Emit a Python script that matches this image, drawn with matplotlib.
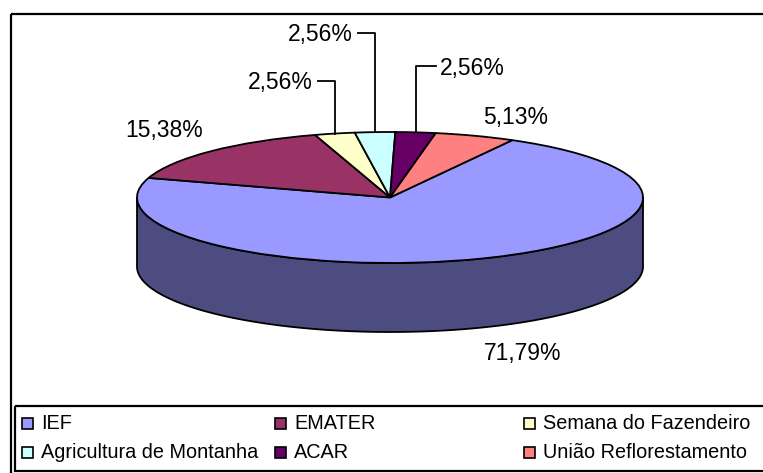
import numpy as np
import matplotlib
matplotlib.use("Agg")
import matplotlib.pyplot as plt
from matplotlib.patches import Wedge, Rectangle, Polygon
from matplotlib.transforms import Affine2D

# data
categories = ['IEF', 'EMATER', 'Semana do Fazendeiro', 'Agricultura de Montanha', 'ACAR', 'União Reflorestamento']
percent = [71.79, 15.38, 2.56, 2.56, 2.56, 5.13]
pct_labels = ['71,79%', '15,38%', '2,56%', '2,56%', '2,56%', '5,13%']
colors = ['#9999FF', '#993366', '#FFFFCC', '#CCFFFF', '#660066', '#FF8080']
side_color = '#4C4C80'

plt.rcParams['font.family'] = ['Liberation Sans', 'DejaVu Sans']

# pie geometry in pixel coords (y down)
cx, cy = 390, 197.5
rx, ry = 253, 65.5
depth = 69
start = 61.1  # first slice starts here, slices go clockwise

# label placement (x, y, ha, leader)
label_pos = [(523, 353, 'center', False),
             (164, 130, 'center', False),
             (313, 83, 'right', True),
             (353, 35, 'right', True),
             (440, 68, 'left', True),
             (516, 117, 'center', False)]

fig = plt.figure(figsize=(7.63, 4.73), dpi=100)
ax = fig.add_axes([0, 0, 1, 1])
ax.set_xlim(0, 763)
ax.set_ylim(473, 0)
ax.axis('off')

# outer chart frame and legend box (run off the right/bottom edge)
ax.add_patch(Rectangle((11, 14), 770, 480, fill=False, lw=1.6, ec='black'))
ax.add_patch(Rectangle((15, 406), 770, 65, fill=False, lw=1.6, ec='black'))

ell = Affine2D().scale(rx, -ry).translate(cx, cy) + ax.transData

# side wall (front half, all IEF)
th = np.radians(np.linspace(180, 360, 200))
top = np.column_stack([cx + rx * np.cos(th), cy - ry * np.sin(th)])
bot = top[::-1] + [0, depth]
ax.add_patch(Polygon(np.vstack([top, bot]), closed=True, fc=side_color, ec='black', lw=1.3))

# top face
vals = np.array(percent)
angs = vals / vals.sum() * 360
t2 = start
mids = []
for v, c in zip(angs, colors):
    t1 = t2 - v
    ax.add_patch(Wedge((0, 0), 1, t1, t2, fc=c, ec='black', lw=1.3, transform=ell))
    mids.append(np.radians((t1 + t2) / 2))
    t2 = t1

# percentage labels
for (lx, ly, ha, lead), txt, m in zip(label_pos, pct_labels, mids):
    ax.text(lx, ly, txt, ha=ha, va='center', fontsize=16.5)
    if lead:
        ex = cx + rx * np.cos(m)
        ey = cy - ry * np.sin(m)
        sx = lx + 5 if ha == 'right' else lx - 4
        ax.plot([sx, ex, ex], [ly - 2, ly - 2, ey], color='black', lw=1.3)

# legend
col_x = [22, 275, 524]
row_y = [423, 452]
for i, (name, c) in enumerate(zip(categories, colors)):
    x0 = col_x[i % 3]
    y0 = row_y[i // 3]
    ax.add_patch(Rectangle((x0, y0 - 5.5), 11, 11, fc=c, ec='black', lw=1.2))
    ax.text(x0 + 19, y0, name, ha='left', va='center', fontsize=14.3)

fig.savefig('out.png', dpi=100)
